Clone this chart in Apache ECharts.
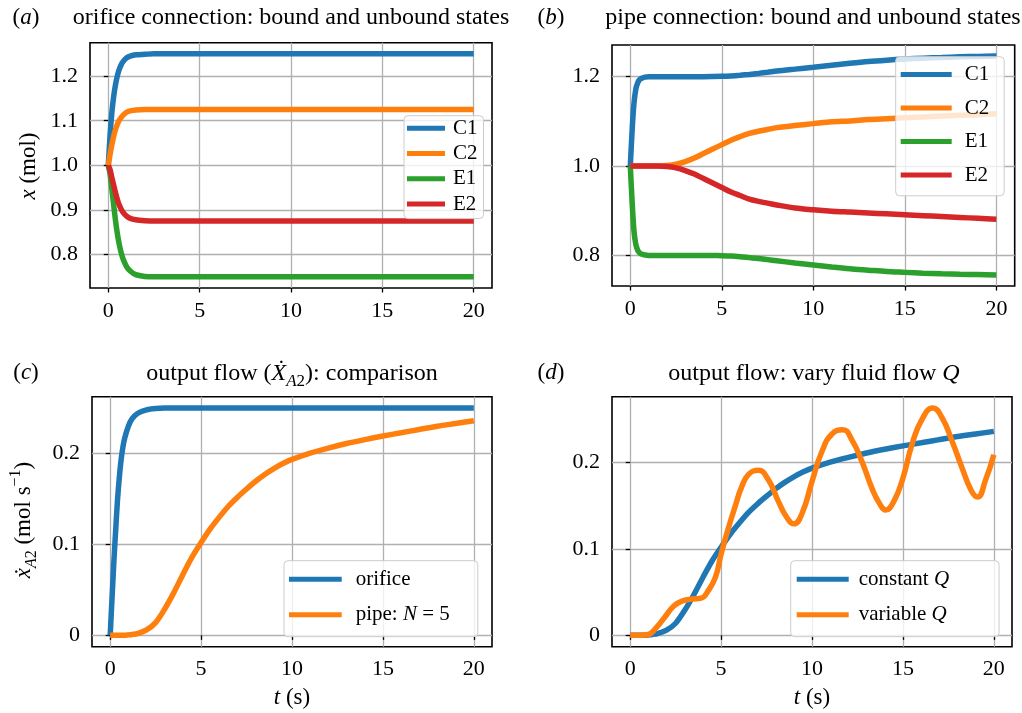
<!DOCTYPE html>
<html>
<head>
<meta charset="utf-8">
<script src="https://cdn.jsdelivr.net/npm/echarts@6/dist/echarts.min.js"></script>
<style>
html, body { margin: 0; padding: 0; background: #fff; }
#chart { width: 1022px; height: 713px; }
</style>
</head>
<body>
<div id="chart"></div>
<script>
// ---- data ----
// (a) orifice connection
var tA = [0, 0.1, 0.2, 0.3, 0.4, 0.5, 0.6, 0.7, 0.8, 1, 1.2, 1.5, 2, 2.5, 3, 4, 5, 6, 8, 10, 12, 14, 16, 18, 20];
var c1A = [1.000, 1.068, 1.120, 1.156, 1.182, 1.201, 1.215, 1.225, 1.232, 1.241, 1.245, 1.248, 1.249, 1.25, 1.25, 1.25, 1.25, 1.25, 1.25, 1.25, 1.25, 1.25, 1.25, 1.25, 1.25];
var c2A = [1.000, 1.025, 1.047, 1.066, 1.081, 1.092, 1.101, 1.107, 1.112, 1.119, 1.122, 1.124, 1.125, 1.125, 1.125, 1.125, 1.125, 1.125, 1.125, 1.125, 1.125, 1.125, 1.125, 1.125, 1.125];
var e1A = [1.000, 0.980, 0.945, 0.910, 0.875, 0.846, 0.823, 0.805, 0.791, 0.773, 0.763, 0.755, 0.751, 0.75, 0.75, 0.75, 0.75, 0.75, 0.75, 0.75, 0.75, 0.75, 0.75, 0.75, 0.75];
var e2A = [1.000, 0.990, 0.972, 0.955, 0.938, 0.923, 0.911, 0.902, 0.895, 0.886, 0.881, 0.878, 0.876, 0.875, 0.875, 0.875, 0.875, 0.875, 0.875, 0.875, 0.875, 0.875, 0.875, 0.875, 0.875];

// (b) pipe connection
var tB = [0, 0.1, 0.2, 0.3, 0.4, 0.5, 0.6, 0.8, 1, 1.5, 2, 2.5, 3, 3.5, 4, 4.5, 5, 5.5, 6, 6.5, 7, 7.5, 8, 9, 10, 11, 12, 13, 14, 15, 16, 17, 18, 19, 20];
var c1B = [1.000, 1.080, 1.140, 1.172, 1.186, 1.193, 1.196, 1.199, 1.2, 1.2, 1.2, 1.2, 1.2, 1.2, 1.2, 1.2003, 1.2008, 1.2018, 1.2033, 1.2052, 1.2075, 1.210, 1.2128, 1.217, 1.221, 1.2255, 1.230, 1.234, 1.237, 1.2395, 1.2415, 1.243, 1.2445, 1.2455, 1.2465];
var c2B = [1.000, 1.0, 1.0, 1.0, 1.0, 1.0, 1.0, 1.0, 1.0, 1.0, 1.001, 1.004, 1.010, 1.018, 1.028, 1.038, 1.048, 1.058, 1.066, 1.073, 1.078, 1.082, 1.086, 1.091, 1.095, 1.099, 1.101, 1.104, 1.106, 1.108, 1.110, 1.112, 1.114, 1.115, 1.117];
var e1B = [1.000, 0.920, 0.855, 0.825, 0.812, 0.806, 0.803, 0.801, 0.8, 0.8, 0.8, 0.8, 0.8, 0.8, 0.8, 0.7998, 0.7993, 0.7985, 0.797, 0.795, 0.793, 0.7905, 0.788, 0.783, 0.7785, 0.774, 0.770, 0.767, 0.764, 0.762, 0.760, 0.7588, 0.7578, 0.757, 0.756];
var e2B = [1.000, 1.0, 1.0, 1.0, 1.0, 1.0, 1.0, 1.0, 1.0, 1.0, 0.999, 0.996, 0.990, 0.982, 0.972, 0.962, 0.952, 0.942, 0.934, 0.926, 0.921, 0.917, 0.913, 0.906, 0.902, 0.899, 0.897, 0.895, 0.893, 0.891, 0.889, 0.887, 0.885, 0.883, 0.881];

// (c) output flow, orifice vs pipe (N = 5)
var tC = [0, 0.1, 0.2, 0.3, 0.4, 0.5, 0.6, 0.7, 0.8, 1, 1.2, 1.5, 2, 2.5, 3, 3.5, 4, 4.5, 5, 5.5, 6, 6.5, 7, 7.5, 8, 8.5, 9, 9.5, 10, 11, 12, 13, 14, 15, 16, 17, 18, 19, 20];
var orifice = [0, 0.040, 0.080, 0.115, 0.148, 0.173, 0.193, 0.207, 0.217, 0.230, 0.238, 0.244, 0.248, 0.2495, 0.25, 0.25, 0.25, 0.25, 0.25, 0.25, 0.25, 0.25, 0.25, 0.25, 0.25, 0.25, 0.25, 0.25, 0.25, 0.25, 0.25, 0.25, 0.25, 0.25, 0.25, 0.25, 0.25, 0.25, 0.25];
var pipeN5 = [0, 0, 0, 0, 0, 0, 0, 0, 0, 0.0005, 0.001, 0.002, 0.006, 0.014, 0.029, 0.047, 0.067, 0.086, 0.102, 0.117, 0.130, 0.142, 0.152, 0.161, 0.1695, 0.177, 0.1835, 0.189, 0.1935, 0.2005, 0.2060, 0.2110, 0.2153, 0.2192, 0.2228, 0.2265, 0.2300, 0.2330, 0.2360];

// (d) constant Q is the same pipe curve; variable Q oscillates
var constQ = pipeN5;
var tV = [0, 0.5, 1.0, 1.4, 1.9, 2.4, 2.9, 3.4, 3.9, 4.3, 4.7, 5.0, 5.4, 5.8, 6.1, 6.5, 7.05, 7.6, 8.15, 8.6, 9.0, 9.45, 10.0, 10.55, 11.1, 11.7, 12.2, 12.75, 13.3, 13.7, 14.05, 14.5, 15.0, 15.5, 16.05, 16.65, 17.15, 17.7, 18.25, 18.75, 19.1, 19.55, 20.0];
var varQ = [0, 0, 0.001, 0.008, 0.021, 0.034, 0.040, 0.042, 0.043, 0.052, 0.068, 0.094, 0.124, 0.151, 0.170, 0.186, 0.191, 0.180, 0.155, 0.137, 0.129, 0.141, 0.178, 0.213, 0.233, 0.238, 0.226, 0.201, 0.170, 0.153, 0.145, 0.155, 0.182, 0.221, 0.250, 0.263, 0.252, 0.225, 0.194, 0.168, 0.160, 0.180, 0.209];

var xTicks = [0, 5, 10, 15, 20];
var yTicksA = [0.8, 0.9, 1.0, 1.1, 1.2];
var yTicksB = [0.8, 1.0, 1.2];
var yTicksCD = [0, 0.1, 0.2];

// ---- helpers ----
var FONT = '"Liberation Serif", "DejaVu Serif", serif';
var BLUE = '#1f77b4', ORANGE = '#ff7f0e', GREEN = '#2ca02c', RED = '#d62728';
var LW = 5.5;

function pairs(t, v) {
    return t.map(function (x, i) { return [x, v[i]]; });
}

function tickLabel(ticks, fmt) {
    return {
        customValues: ticks, margin: 12, color: '#000', fontFamily: FONT, fontSize: 22,
        formatter: function (v) { return '{t|' + fmt(v) + '}'; },
        rich: { t: { fontFamily: FONT, fontSize: 22, color: '#000' } }
    };
}

function xAxis(gi) {
    return {
        type: 'value', gridIndex: gi, min: -1, max: 21,
        axisLine: { show: false },
        axisTick: { show: true, length: 4.5, customValues: xTicks, lineStyle: { color: '#000', width: 1.3 } },
        axisLabel: tickLabel(xTicks, function (v) { return String(v); }),
        splitLine: { show: true, lineStyle: { color: '#b0b0b0', width: 1.3 } }
    };
}

function yAxis(gi, min, max, ticks, fmt) {
    return {
        type: 'value', gridIndex: gi, min: min, max: max,
        axisLine: { show: false },
        axisTick: { show: true, length: 4.5, customValues: ticks, lineStyle: { color: '#000', width: 1.3 } },
        axisLabel: tickLabel(ticks, fmt),
        splitLine: { show: true, lineStyle: { color: '#b0b0b0', width: 1.3 } }
    };
}

function line(name, gi, data, color, smooth) {
    return {
        type: 'line', name: name, xAxisIndex: gi, yAxisIndex: gi,
        data: data, showSymbol: false, smooth: smooth,
        lineStyle: { color: color, width: LW }, itemStyle: { color: color },
        animation: false, silent: true
    };
}

var richBase = {
    r: { fontFamily: FONT, fontSize: 21, lineHeight: 20, color: '#000' },
    i: { fontFamily: FONT, fontSize: 21, lineHeight: 20, fontStyle: 'italic', color: '#000' }
};

function legend(names, left, top, iw, pad, gap, textPad) {
    return {
        data: names, orient: 'vertical', left: left, top: top,
        icon: 'rect', itemWidth: iw, itemHeight: 5, itemGap: gap,
        padding: pad, selectedMode: false,
        backgroundColor: 'rgba(255,255,255,0.8)', borderColor: '#cccccc', borderWidth: 1, borderRadius: 4,
        textStyle: { fontFamily: FONT, fontSize: 21, lineHeight: 20, color: '#000', padding: [0, 0, 0, textPad], rich: richBase },
        formatter: function (n) {
            if (n === 'pipe: N = 5') return '{r|pipe: }{i|N}{r| = 5}';
            if (n === 'constant Q') return '{r|constant }{i|Q}';
            if (n === 'variable Q') return '{r|variable }{i|Q}';
            return '{r|' + n + '}';
        }
    };
}

function makeRich(size) {
    var sub = Math.round(size * 0.7);
    return {
        r: { fontFamily: FONT, fontSize: size, lineHeight: 32, fill: '#000' },
        i: { fontFamily: FONT, fontSize: size, lineHeight: 32, fontStyle: 'italic', fill: '#000' },
        si: { fontFamily: FONT, fontSize: sub, lineHeight: 18, fontStyle: 'italic', verticalAlign: 'bottom', fill: '#000' },
        s: { fontFamily: FONT, fontSize: sub, lineHeight: 18, verticalAlign: 'bottom', fill: '#000' },
        sup: { fontFamily: FONT, fontSize: sub, lineHeight: 18, verticalAlign: 'top', fill: '#000' }
    };
}

function label(text, x, y, size, rot) {
    return {
        type: 'text', x: x, y: y, rotation: rot || 0, silent: true,
        style: {
            text: text, rich: makeRich(size), fill: '#000', fontFamily: FONT, fontSize: size,
            textAlign: 'center', textVerticalAlign: 'middle', align: 'center', verticalAlign: 'middle'
        }
    };
}

var chart = echarts.init(document.getElementById('chart'));

var option = {
    backgroundColor: '#fff',
    animation: false,
    textStyle: { fontFamily: FONT },
    grid: [
        { left: 90, top: 42.7, width: 402, height: 245.3, show: true, borderColor: '#000', borderWidth: 1.6, backgroundColor: 'transparent' },
        { left: 612, top: 45, width: 402.7, height: 241, show: true, borderColor: '#000', borderWidth: 1.6, backgroundColor: 'transparent' },
        { left: 92, top: 396.7, width: 400, height: 250, show: true, borderColor: '#000', borderWidth: 1.6, backgroundColor: 'transparent' },
        { left: 612, top: 396.7, width: 400, height: 250, show: true, borderColor: '#000', borderWidth: 1.6, backgroundColor: 'transparent' }
    ],
    xAxis: [xAxis(0), xAxis(1), xAxis(2), xAxis(3)],
    yAxis: [
        yAxis(0, 0.725, 1.275, yTicksA, function (v) { return v.toFixed(1); }),
        yAxis(1, 0.7315, 1.271, yTicksB, function (v) { return v.toFixed(1); }),
        yAxis(2, -0.0125, 0.2625, yTicksCD, function (v) { return v === 0 ? '0' : v.toFixed(1); }),
        yAxis(3, -0.01315, 0.27615, yTicksCD, function (v) { return v === 0 ? '0' : v.toFixed(1); })
    ],
    legend: [
        legend(['C1', 'C2', 'E1', 'E2'], 404, 115.7, 38, [2, 6, 4, 3], 4.3, 3),
        legend(['C1', 'C2', 'E1', 'E2'], 895.7, 56.7, 51, [7.3, 15, 10.3, 5], 12.5, 8),
        legend(['orifice', 'pipe: N = 5'], 284, 560.7, 52.7, [8, 28, 11.4, 5], 14.6, 9),
        legend(['constant Q', 'variable Q'], 790.7, 560.7, 52, [8, 50, 11.4, 6], 14.6, 5)
    ],
    series: [
        line('C1', 0, pairs(tA, c1A), BLUE, 0.3),
        line('C2', 0, pairs(tA, c2A), ORANGE, 0.3),
        line('E1', 0, pairs(tA, e1A), GREEN, 0.3),
        line('E2', 0, pairs(tA, e2A), RED, 0.3),
        line('C1', 1, pairs(tB, c1B), BLUE, 0.3),
        line('C2', 1, pairs(tB, c2B), ORANGE, 0.3),
        line('E1', 1, pairs(tB, e1B), GREEN, 0.3),
        line('E2', 1, pairs(tB, e2B), RED, 0.3),
        line('orifice', 2, pairs(tC, orifice), BLUE, 0.3),
        line('pipe: N = 5', 2, pairs(tC, pipeN5), ORANGE, 0.3),
        line('constant Q', 3, pairs(tC, constQ), BLUE, 0.3),
        line('variable Q', 3, pairs(tV, varQ), ORANGE, 0.5)
    ],
    graphic: [
        label('{r|(}{i|a}{r|)}', 26, 18, 23),
        label('{r|orifice connection: bound and unbound states}', 291, 18, 24),
        label('{r|(}{i|b}{r|)}', 551, 18, 23),
        label('{r|pipe connection: bound and unbound states}', 813, 18, 24),
        label('{r|(}{i|c}{r|)}', 26, 373, 23),
        label('{r|output flow (}{i|\u1E8A}{si|A}{s|2}{r|): comparison}', 292, 374, 24),
        label('{r|(}{i|d}{r|)}', 551, 373, 23),
        label('{r|output flow: vary fluid flow }{i|Q}', 814, 374, 24),
        label('{i|x}{r| (mol)}', 29, 166, 23, Math.PI / 2),
        label('{i|\u1E8B}{si|A}{s|2}{r| (mol s}{sup|\u22121}{r|)}', 24, 520, 23, Math.PI / 2),
        label('{i|t}{r| (s)}', 292, 698, 23),
        label('{i|t}{r| (s)}', 812, 698, 23)
    ]
};

chart.setOption(option);
</script>
</body>
</html>
